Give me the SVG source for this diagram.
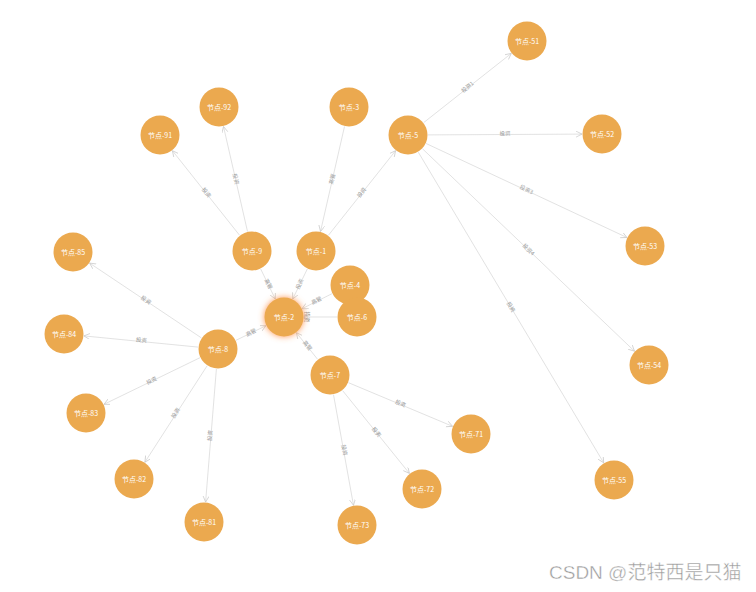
<svg xmlns="http://www.w3.org/2000/svg" width="756" height="592" viewBox="0 0 756 592">
<style>
.n circle{fill:#EBA94F}
.n text{fill:#fff;font-family:"Noto Sans CJK SC","Noto Sans",sans-serif;font-size:7px;text-anchor:middle;dominant-baseline:central}
.e line{stroke:#d6d6d6;stroke-width:0.7;marker-end:url(#arr)}
.e text{fill:#999;font-family:"Noto Sans CJK SC","Noto Sans",sans-serif;font-size:5.5px;text-anchor:middle;dominant-baseline:central}
.wm{fill:#9a9a9a;font-family:"Liberation Sans","Noto Sans CJK SC",sans-serif;font-size:19px;stroke:#fff;stroke-width:0.4}
</style>
<defs>
<marker id="arr" markerUnits="userSpaceOnUse" markerWidth="10" markerHeight="10" refX="6" refY="3" orient="auto">
<path d="M0,0 L6,3 L0,6" fill="none" stroke="#c8c8c8" stroke-width="0.7"/>
</marker>
<filter id="glow" x="-60%" y="-60%" width="220%" height="220%">
<feDropShadow dx="0" dy="0" stdDeviation="3.2" flood-color="#ff8a3d" flood-opacity="0.9"/>
</filter>
</defs>
<rect width="756" height="592" fill="#fff"/>
<g id="connectors" class="e">
<line x1="423.7" y1="122.6" x2="511.3" y2="53.4"/><text transform="translate(467.5,87) rotate(-38.3)">投资1</text>
<line x1="428" y1="134.9" x2="582" y2="134.1"/><text transform="translate(505,133.5) rotate(-0.3)">投资</text>
<line x1="426.1" y1="143.5" x2="626.9" y2="237.5"/><text transform="translate(526.5,189.5) rotate(25.1)">投资3</text>
<line x1="422.5" y1="148.8" x2="634.5" y2="351.2"/><text transform="translate(528.5,249.5) rotate(43.7)">投资4</text>
<line x1="418.3" y1="152.2" x2="603.7" y2="462.8"/><text transform="translate(511,307) rotate(59.2)">投资</text>
<line x1="328.4" y1="235.3" x2="395.6" y2="150.7"/><text transform="translate(361.5,192.5) rotate(-51.6)">投资</text>
<line x1="344.5" y1="126.5" x2="320.5" y2="231.5"/><text transform="translate(332,179) rotate(-77.1)">高管</text>
<line x1="239.6" y1="235.3" x2="172.4" y2="150.7"/><text transform="translate(206.5,192.5) rotate(51.6)">投资</text>
<line x1="247.5" y1="231.5" x2="223.5" y2="126.5"/><text transform="translate(236,179) rotate(77.1)">投资</text>
<line x1="260.7" y1="269" x2="275.3" y2="299"/><text transform="translate(268.5,284) rotate(64.1)">高管</text>
<line x1="307.3" y1="269" x2="292.7" y2="299"/><text transform="translate(299.5,284) rotate(-64.1)">投资</text>
<line x1="332" y1="293.7" x2="302" y2="308.7"/><text transform="translate(316.5,300.5) rotate(-25.9)">高管</text>
<line x1="337" y1="317" x2="304" y2="317"/><text transform="translate(306.5,317) rotate(90)">投资</text>
<line x1="317.6" y1="359.3" x2="296.4" y2="332.7"/><text transform="translate(307.5,345.5) rotate(51.6)">高管</text>
<line x1="236" y1="340.3" x2="266" y2="325.7"/><text transform="translate(251,332.5) rotate(-25.9)">高管</text>
<line x1="201.4" y1="337.9" x2="89.6" y2="263.1"/><text transform="translate(146,300) rotate(33.8)">投资</text>
<line x1="198.1" y1="347.1" x2="83.9" y2="335.9"/><text transform="translate(141.5,340) rotate(5.6)">投资</text>
<line x1="200" y1="357.7" x2="104" y2="404.3"/><text transform="translate(151.5,380.5) rotate(-25.9)">投资</text>
<line x1="207.1" y1="365.8" x2="144.9" y2="462.2"/><text transform="translate(175.5,413) rotate(-57.1)">投资</text>
<line x1="216.4" y1="368.9" x2="205.6" y2="502.1"/><text transform="translate(210,435.5) rotate(-85.4)">投资</text>
<line x1="348.5" y1="382.7" x2="452.5" y2="426.3"/><text transform="translate(400.5,403.5) rotate(22.7)">投资</text>
<line x1="342.6" y1="390.6" x2="409.4" y2="473.4"/><text transform="translate(376.5,432) rotate(51.1)">投资</text>
<line x1="333.5" y1="394.7" x2="353.5" y2="505.3"/><text transform="translate(344.5,450) rotate(79.8)">投资</text>
</g>
<g id="node-51" class="n"><circle cx="527" cy="41" r="19.5"/><text x="527" y="41">节点-51</text></g>
<g id="node-52" class="n"><circle cx="602" cy="134" r="19.5"/><text x="602" y="134">节点-52</text></g>
<g id="node-53" class="n"><circle cx="645" cy="246" r="19.5"/><text x="645" y="246">节点-53</text></g>
<g id="node-54" class="n"><circle cx="649" cy="365" r="19.5"/><text x="649" y="365">节点-54</text></g>
<g id="node-55" class="n"><circle cx="614" cy="480" r="19.5"/><text x="614" y="480">节点-55</text></g>
<g id="node-5" class="n"><circle cx="408" cy="135" r="19.5"/><text x="408" y="135">节点-5</text></g>
<g id="node-3" class="n"><circle cx="349" cy="107" r="19.5"/><text x="349" y="107">节点-3</text></g>
<g id="node-92" class="n"><circle cx="219" cy="107" r="19.5"/><text x="219" y="107">节点-92</text></g>
<g id="node-91" class="n"><circle cx="160" cy="135" r="19.5"/><text x="160" y="135">节点-91</text></g>
<g id="node-9" class="n"><circle cx="252" cy="251" r="19.5"/><text x="252" y="251">节点-9</text></g>
<g id="node-1" class="n"><circle cx="316" cy="251" r="19.5"/><text x="316" y="251">节点-1</text></g>
<g id="node-4" class="n"><circle cx="350" cy="285" r="19.5"/><text x="350" y="285">节点-4</text></g>
<g id="node-6" class="n"><circle cx="357" cy="317" r="19.5"/><text x="357" y="317">节点-6</text></g>
<g id="node-2" class="n"><circle cx="284" cy="317" r="19.5" filter="url(#glow)"/><text x="284" y="317">节点-2</text></g>
<g id="node-85" class="n"><circle cx="73" cy="252" r="19.5"/><text x="73" y="252">节点-85</text></g>
<g id="node-84" class="n"><circle cx="64" cy="334" r="19.5"/><text x="64" y="334">节点-84</text></g>
<g id="node-8" class="n"><circle cx="218" cy="349" r="19.5"/><text x="218" y="349">节点-8</text></g>
<g id="node-83" class="n"><circle cx="86" cy="413" r="19.5"/><text x="86" y="413">节点-83</text></g>
<g id="node-82" class="n"><circle cx="134" cy="479" r="19.5"/><text x="134" y="479">节点-82</text></g>
<g id="node-81" class="n"><circle cx="204" cy="522" r="19.5"/><text x="204" y="522">节点-81</text></g>
<g id="node-7" class="n"><circle cx="330" cy="375" r="19.5"/><text x="330" y="375">节点-7</text></g>
<g id="node-71" class="n"><circle cx="471" cy="434" r="19.5"/><text x="471" y="434">节点-71</text></g>
<g id="node-72" class="n"><circle cx="422" cy="489" r="19.5"/><text x="422" y="489">节点-72</text></g>
<g id="node-73" class="n"><circle cx="357" cy="525" r="19.5"/><text x="357" y="525">节点-73</text></g>
<text class="wm" x="549" y="579">CSDN @范特西是只猫</text>
</svg>
